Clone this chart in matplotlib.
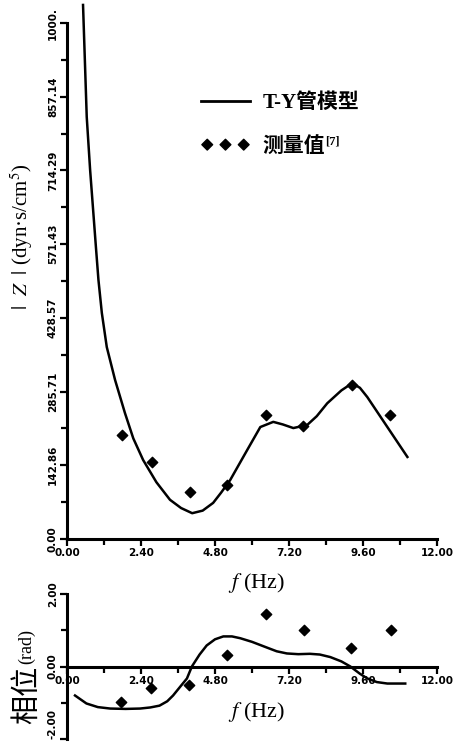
import numpy as np
import matplotlib.pyplot as plt
from matplotlib.lines import Line2D

plt.rcParams['mathtext.fontset'] = 'stix'

# model curve |Z|
f_model = [0.52, 0.64, 0.75, 0.94, 1.02, 1.13, 1.29, 1.56, 1.88, 2.15, 2.47, 2.9, 3.34, 3.7, 4.06,
           4.4, 4.74, 5.0, 5.29, 5.84, 6.27, 6.69, 7.0, 7.34, 7.79, 8.1, 8.44, 8.9, 9.25,
           9.5, 9.74, 10.39, 11.04]
z_model = [1035, 818, 715, 564, 502, 438, 372, 308, 244, 195, 153, 110, 76, 60, 50,
           55, 70, 90, 114, 172, 217, 227, 222, 215, 221, 238, 263, 288, 302,
           293, 275, 217, 159]

# measured |Z|
f_meas = [1.79, 2.76, 3.99, 5.19, 6.46, 7.66, 9.25, 10.49]
z_meas = [202, 149, 91, 105, 240, 219, 298, 240]

# model phase
f_phase = [0.26, 0.63, 1.0, 1.40, 1.9, 2.37, 2.7, 3.0, 3.25, 3.44, 3.65, 3.89, 4.05, 4.3,
           4.53, 4.8, 5.07, 5.35, 5.62, 6.0, 6.49, 6.8, 7.13, 7.5, 7.88, 8.2, 8.54, 8.9,
           9.19, 9.5, 9.74, 10.05, 10.39, 10.97]
ph_model = [-0.80, -1.02, -1.12, -1.16, -1.17, -1.16, -1.13, -1.08, -0.96, -0.80, -0.58, -0.33, 0.0, 0.33,
            0.58, 0.75, 0.83, 0.83, 0.78, 0.68, 0.52, 0.42, 0.36, 0.34, 0.35, 0.33, 0.26, 0.14,
            0.0, -0.2, -0.33, -0.43, -0.47, -0.47]

# measured phase
ph_meas_f = [1.75, 2.72, 3.97, 5.19, 6.45, 7.69, 9.21, 10.51]
ph_meas = [-0.97, -0.58, -0.50, 0.33, 1.44, 1.02, 0.52, 1.00]

x_ticks = [0, 2.4, 4.8, 7.2, 9.6, 12.0]
x_labels = ['0.00', '2.40', '4.80', '7.20', '9.60', '12.00']
z_ticks = [0, 142.86, 285.71, 428.57, 571.43, 714.29, 857.14, 1000]
z_labels = ['0.00', '142.86', '285.71', '428.57', '571.43', '714.29', '857.14', '1000.']
ph_ticks = [-2, 0, 2]
ph_labels = ['-2.00', '0.00', '2.00']

W, H = 461, 752
fig = plt.figure(figsize=(W / 100, H / 100), dpi=100)

tick_font = dict(fontsize=7.5, fontweight='bold', family='DejaVu Sans')
serif = ['Liberation Serif', 'Noto Sans CJK SC']


def style(ax):
    for s in ['top', 'right']:
        ax.spines[s].set_visible(False)
    for s in ['left', 'bottom']:
        ax.spines[s].set_linewidth(2.2)
    ax.tick_params(which='both', direction='out', width=1.6, length=5, pad=1.5)
    ax.tick_params(which='minor', length=4)
    ax.set_xlim(0, 12)
    ax.set_xticks(x_ticks)
    ax.set_xticks(np.arange(1.2, 12, 2.4), minor=True)
    ax.set_xticklabels(x_labels, **tick_font)


# top: |Z|
ax1 = fig.add_axes([67 / W, 1 - 539 / H, 370 / W, 516 / H])
style(ax1)
ax1.set_ylim(0, 1000)
ax1.set_yticks(z_ticks)
ax1.set_yticks(np.arange(71.43, 1000, 142.86), minor=True)
ax1.set_yticklabels(z_labels, rotation=90, va='center', **tick_font)
ax1.plot(f_model, z_model, color='black', lw=1.8, clip_on=False, solid_joinstyle='round')
ax1.scatter(f_meas, z_meas, marker='D', s=28, color='black', zorder=3)

handles = [Line2D([], [], color='black', lw=2),
           plt.scatter([], [], marker='D', s=30, color='black')]
ax1.legend(handles, ['T-Y管模型', '测量值'], loc='upper left',
           bbox_to_anchor=(201 / W, 1 - 93 / H), bbox_transform=fig.transFigure,
           frameon=False, handlelength=2.35, scatterpoints=3, scatteryoffsets=[0.5],
           labelspacing=1.15, handletextpad=0.6, borderpad=0, borderaxespad=0,
           prop=dict(family=serif, size=15, weight='bold'))
fig.text(325 / W, 1 - 142 / H, '[7]', ha='left', va='center', fontsize=9,
         fontweight='bold', family=serif)

fig.text(256 / W, 1 - 583 / H, r'$f$ (Hz)', ha='center', va='center', fontsize=16, family=serif)
fig.text(22 / W, 1 - 237 / H, r'$|\ \ Z\ \ |$ (dyn·s/cm$^5$)', rotation=90, ha='center', va='center',
         fontsize=15, family=serif)

# bottom: phase
ax2 = fig.add_axes([67 / W, 1 - 739 / H, 370 / W, 145 / H])
ax2.spines['bottom'].set_position(('data', 0))
style(ax2)
ax2.set_ylim(-2, 2)
ax2.set_yticks(ph_ticks)
ax2.set_yticks([-1, 1], minor=True)
ax2.set_yticklabels(ph_labels, rotation=90, va='center', **tick_font)
# keep the lowest label inside the figure
ax2.get_yticklabels()[0].set_va('bottom')
ax2.plot(f_phase, ph_model, color='black', lw=1.8, solid_joinstyle='round')
ax2.scatter(ph_meas_f, ph_meas, marker='D', s=28, color='black', zorder=3)

fig.text(256 / W, 1 - 712 / H, r'$f$ (Hz)', ha='center', va='center', fontsize=16, family=serif)
fig.text(27 / W, 1 - 695 / H, '相位', rotation=90, ha='center', va='center',
         fontsize=21, family=['Noto Sans CJK SC', 'DejaVu Sans'])
fig.text(27 / W, 1 - 647 / H, '(rad)', rotation=90, ha='center', va='center',
         fontsize=13, family=serif)

fig.savefig('out.png', dpi=100)
